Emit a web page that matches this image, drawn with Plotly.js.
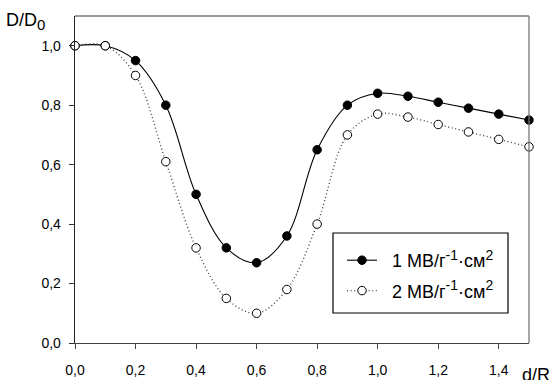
<!DOCTYPE html>
<html>
<head>
<meta charset="utf-8">
<script src="https://cdn.plot.ly/plotly-3.0.1.min.js"></script>
<style>html,body{margin:0;padding:0;background:#fff}#chart{width:553px;height:380px}</style>
</head>
<body>
<div id="chart"></div>
<script>
const xValues = [0.0, 0.1, 0.2, 0.3, 0.4, 0.5, 0.6, 0.7, 0.8, 0.9, 1.0, 1.1, 1.2, 1.3, 1.4, 1.5];
const series1 = [1.0, 1.0, 0.95, 0.80, 0.50, 0.32, 0.27, 0.36, 0.65, 0.80, 0.84, 0.83, 0.81, 0.79, 0.77, 0.75];
const series2 = [1.0, 1.0, 0.90, 0.61, 0.32, 0.15, 0.10, 0.18, 0.40, 0.70, 0.77, 0.76, 0.735, 0.71, 0.685, 0.66];
const seriesNames = [
  '\u00A0\u00A01 МВ/г<sup><span style="font-size:14px">-1</span></sup>·см<sup><span style="font-size:14px">2</span></sup>',
  '\u00A0\u00A02 МВ/г<sup><span style="font-size:14px">-1</span></sup>·см<sup><span style="font-size:14px">2</span></sup>'
];
const xTicks = [0.0, 0.2, 0.4, 0.6, 0.8, 1.0, 1.2, 1.4];
const yTicks = [0.0, 0.2, 0.4, 0.6, 0.8, 1.0];

const font = 'Liberation Sans, Arial, sans-serif';
const traces = [
  {x: xValues, y: series1, name: seriesNames[0], legendgroup: 'a', type: 'scatter', mode: 'lines+markers',
   line: {shape: 'spline', smoothing: 1, color: '#000', width: 1.1},
   marker: {symbol: 'circle', size: 8.5, color: '#000', line: {color: '#000', width: 1}}, cliponaxis: false},
  {x: xValues, y: series2, name: seriesNames[1], legendgroup: 'b', type: 'scatter', mode: 'lines+markers',
   line: {shape: 'spline', smoothing: 1, color: '#444', width: 1.4, dash: '1px,2.6px'},
   marker: {symbol: 'circle', size: 8.5, color: '#fff', line: {color: '#000', width: 1}}, cliponaxis: false}
];
const layout = {
  width: 553, height: 380,
  margin: {l: 75, r: 24, t: 16, b: 37},
  paper_bgcolor: '#fff', plot_bgcolor: '#fff',
  separators: ', ',
  showlegend: true,
  font: {family: font, color: '#000', size: 14},
  xaxis: {range: [0, 1.5], tickvals: xTicks, tickformat: '.1f', ticks: 'outside', ticklen: 5, tickwidth: 1,
          tickcolor: '#444', showgrid: false, zeroline: false, showline: true, linecolor: '#444', linewidth: 1.3,
          ticklabelstandoff: 9, tickfont: {size: 14, family: font}, fixedrange: true},
  yaxis: {range: [0, 1.1], tickvals: yTicks, tickformat: '.1f', ticks: 'outside', ticklen: 5, tickwidth: 1,
          tickcolor: '#333', showgrid: false, zeroline: false, showline: true, linecolor: '#222', linewidth: 1.3,
          ticklabelstandoff: 5, tickfont: {size: 14, family: font}, fixedrange: true},
  shapes: [
    {type: 'line', xref: 'paper', yref: 'paper', x0: 0, x1: 1, y0: 1, y1: 1, line: {color: '#777', width: 1.3}},
    {type: 'line', xref: 'paper', yref: 'paper', x0: 1, x1: 1, y0: 0, y1: 1, line: {color: '#777', width: 1.3}},
    {type: 'rect', xref: 'paper', yref: 'paper', x0: (333 - 75) / 454, x1: (508 - 75) / 454,
     y0: (343 - 313) / 327, y1: (343 - 233) / 327, line: {color: '#000', width: 1.2}, fillcolor: 'rgba(0,0,0,0)', layer: 'above'}
  ],
  legend: {x: (342 - 75) / 454, y: (343 - 242) / 327, xanchor: 'left', yanchor: 'top', bgcolor: 'rgba(255,255,255,0)',
           borderwidth: 0, traceorder: 'grouped', tracegroupgap: 4, font: {size: 18, family: font}},
  annotations: [
    {text: 'D/D<sub><span style="font-size:15px">0</span></sub>', xref: 'paper', yref: 'paper', x: -0.156, y: 1.025, xanchor: 'left', yanchor: 'top',
     showarrow: false, font: {size: 18, family: font}},
    {text: 'd/R', xref: 'paper', yref: 'paper', x: 0.98, y: -0.06, xanchor: 'left', yanchor: 'top',
     showarrow: false, font: {size: 18, family: font}}
  ]
};
Plotly.newPlot('chart', traces, layout, {displayModeBar: false, staticPlot: true});
</script>
</body>
</html>
